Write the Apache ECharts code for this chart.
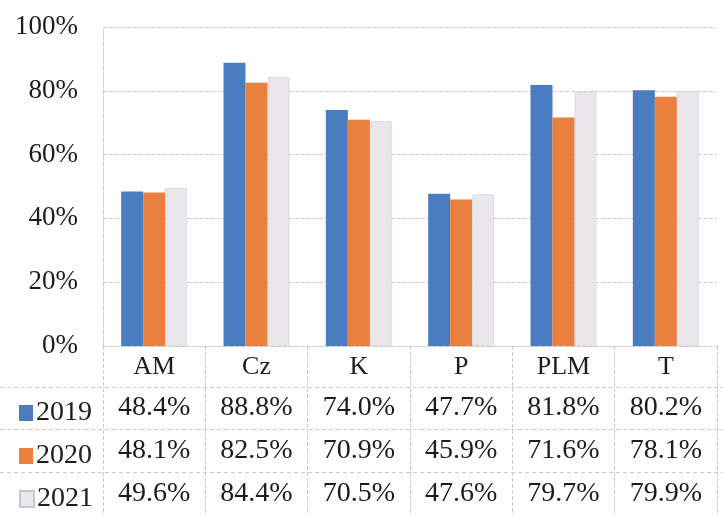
<!DOCTYPE html>
<html>
<head>
<meta charset="utf-8">
<script src="https://cdn.jsdelivr.net/npm/echarts@6/dist/echarts.min.js"></script>
<style>
  html, body { margin: 0; padding: 0; background: #fff; }
  #chart { width: 723px; height: 515px; }
</style>
</head>
<body>
<div id="chart"></div>
<script>
// Categories and yearly shares (percent)
const categories = ['AM', 'Cz', 'K', 'P', 'PLM', 'T'];
const years = ['2019', '2020', '2021'];
const values2019 = [48.4, 88.8, 74.0, 47.7, 81.8, 80.2];
const values2020 = [48.1, 82.5, 70.9, 45.9, 71.6, 78.1];
const values2021 = [49.6, 84.4, 70.5, 47.6, 79.7, 79.9];
const yTicks = [0, 20, 40, 60, 80, 100];

const seriesValues = [values2019, values2020, values2021];
const colors = ['#4a7dc0', '#e9803d', '#e9e7eb'];

const FONT = 'Liberation Serif';
const TEXT = '#1c1c1c';
const LINE = '#cfc9c9';

// Layout of the plot and the data table below it
const plotLeft = 103, plotRight = 6, plotTop = 27, axisY = 346;
const headerCenter = 367;
const rowCenters = [408, 451, 494];

const chart = echarts.init(document.getElementById('chart'));

// Extra x axes whose labels print the table rows
const tableAxes = seriesValues.map((vals, i) => ({
  type: 'category',
  data: categories,
  gridIndex: 0,
  position: 'bottom',
  axisLine: { show: false },
  axisTick: { show: false },
  splitLine: { show: false },
  axisLabel: {
    margin: rowCenters[i] - axisY,
    verticalAlign: 'middle',
    fontFamily: FONT,
    fontSize: 28,
    color: TEXT,
    formatter: (v, idx) => vals[idx].toFixed(1) + '%'
  }
}));

// One legend per table row, each sitting at the row's left end
const legends = years.map((y, i) => ({
  orient: 'vertical',
  left: 14,
  top: rowCenters[i] - 14,
  itemWidth: 14,
  itemHeight: 16,
  icon: 'rect',
  selectedMode: false,
  textStyle: { fontFamily: FONT, fontSize: 28, color: TEXT, padding: [0, 0, 0, -2] },
  data: [y]
}));

// Horizontal table rules between the header and each row
const ruleYs = [
  (headerCenter + rowCenters[0]) / 2,
  (rowCenters[0] + rowCenters[1]) / 2,
  (rowCenters[1] + rowCenters[2]) / 2
];

chart.setOption({
  animation: false,
  backgroundColor: '#ffffff',
  textStyle: { fontFamily: FONT },
  grid: {
    left: plotLeft,
    right: plotRight,
    top: plotTop,
    bottom: 515 - axisY,
    containLabel: false
  },
  legend: legends,
  xAxis: [
    {
      type: 'category',
      data: categories,
      position: 'bottom',
      axisLine: { show: true, lineStyle: { color: LINE, type: 'dashed', width: 1 } },
      axisTick: {
        show: true,
        length: 515 - axisY,
        lineStyle: { color: LINE, type: 'dashed', width: 1 }
      },
      axisLabel: {
        margin: headerCenter - axisY,
        verticalAlign: 'middle',
        fontFamily: FONT,
        fontSize: 26,
        color: TEXT
      }
    },
    ...tableAxes
  ],
  yAxis: {
    type: 'value',
    min: yTicks[0],
    max: yTicks[yTicks.length - 1],
    interval: yTicks[1] - yTicks[0],
    axisLine: { show: true, lineStyle: { color: LINE, type: 'dashed', width: 1 } },
    axisTick: { show: false },
    splitLine: { show: true, lineStyle: { color: LINE, type: 'dashed', width: 1 } },
    axisLabel: {
      margin: 25,
      fontFamily: FONT,
      fontSize: 27,
      color: TEXT,
      padding: [0, 0, 5, 0],
      formatter: '{value}%'
    }
  },
  graphic: ruleYs.map(y => ({
    type: 'line',
    silent: true,
    shape: { x1: 0, y1: y, x2: 723, y2: y },
    style: { stroke: LINE, lineWidth: 1, lineDash: [4, 3] }
  })),
  series: seriesValues.map((vals, i) => ({
    name: years[i],
    type: 'bar',
    xAxisIndex: 0,
    data: vals,
    barWidth: 22,
    barGap: '0%',
    itemStyle: i === 2
      ? { color: colors[i], borderColor: '#c9c5cc', borderWidth: 1, borderType: 'dotted' }
      : { color: colors[i] }
  }))
});
</script>
</body>
</html>
